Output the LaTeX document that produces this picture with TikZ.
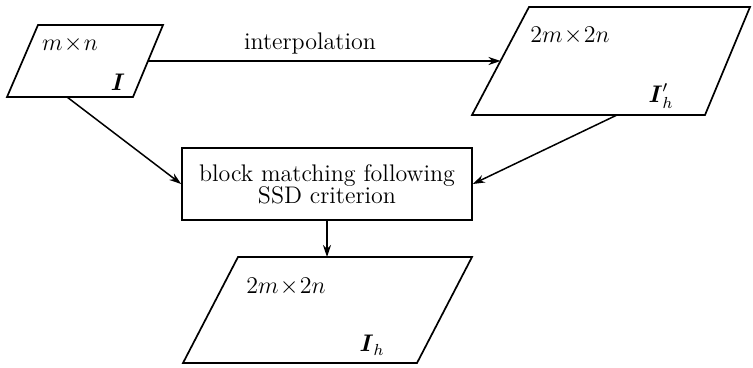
\documentclass[tikz,border=0pt]{standalone}
\usepackage{amsmath,amssymb}
\usetikzlibrary{arrows.meta}
\begin{document}
\begin{tikzpicture}[x=0.5pt,y=-0.5pt,
  shapeline/.style={line width=0.85pt,line join=miter},
  conn/.style={line width=0.75pt,-{Stealth[length=6pt,width=4pt]}},
  lbl/.style={font=\fontsize{12}{14}\selectfont,inner sep=0pt},
  every node/.style={font=\fontsize{12}{14}\selectfont}]
\useasboundingbox (0,0) rectangle (753,368);
% parallelogram 1
\draw[shapeline] (38,25) -- (163,25) -- (133,97) -- (7,97) -- cycle;
\coordinate (p1r) at (148,61);
\coordinate (p1b) at (67,97);
\node[lbl] (t1) at (70,45) {$m\!\times\! n$};
\node[lbl] (i1) at (118,82) {$\boldsymbol{I}$};
% parallelogram 2
\draw[shapeline] (529,7) -- (750,7) -- (705,115) -- (472,115) -- cycle;
\coordinate (p2l) at (500.5,61);
\coordinate (p2b) at (617,115);
\node[lbl] (t2) at (570,36) {$2m\!\times\! 2n$};
\node[lbl] (i2) at (661,96) {$\boldsymbol{I}'_{h}$};
% box
\node[draw,line width=0.85pt,minimum width=145pt,minimum height=36pt,align=center,inner sep=0pt]
  (box) at (327,184) {block matching following\\[-3pt]SSD criterion};
% parallelogram 3
\draw[shapeline] (238,257) -- (472,257) -- (417,363) -- (183,363) -- cycle;
\coordinate (p3t) at (327,257);
\node[lbl] (t3) at (286,287) {$2m\!\times\! 2n$};
\node[lbl] (i3) at (372,345) {$\boldsymbol{I}_{h}$};
% connectors
\draw[conn] (p1r) -- (p2l);
\node[lbl] (lab) at (310,44) {interpolation};
\draw[conn] (p1b) -- (box.west);
\draw[conn] (p2b) -- (box.east);
\draw[conn] (box.south) -- (p3t);
\end{tikzpicture}
\end{document}
